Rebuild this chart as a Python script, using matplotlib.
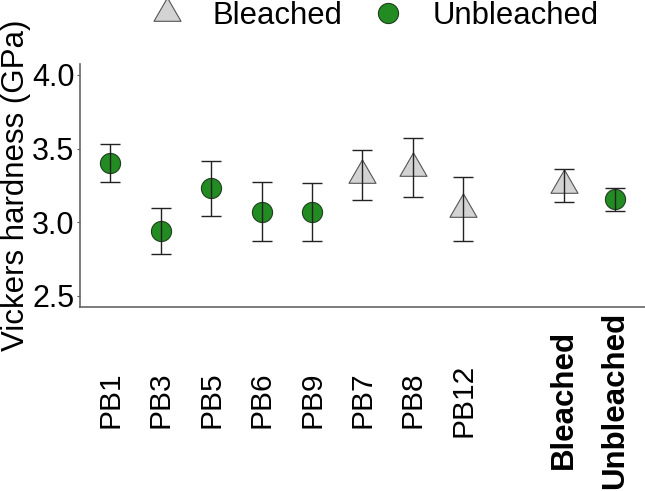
import numpy as np
import matplotlib
matplotlib.use("Agg")
import matplotlib.pyplot as plt
from matplotlib.path import Path
from matplotlib.lines import Line2D

plt.rcParams['font.family'] = ['Liberation Sans', 'DejaVu Sans']

# data (blank slot separates samples from the group means)
samples = ['PB1', 'PB3', 'PB5', 'PB6', 'PB9', 'PB7', 'PB8', 'PB12', '', 'Bleached', 'Unbleached']
group = ['Unbleached'] * 5 + ['Bleached'] * 3 + [''] + ['Bleached', 'Unbleached']
hardness = [3.40, 2.94, 3.23, 3.07, 3.07, 3.32, 3.37, 3.09, np.nan, 3.25, 3.155]
sd = [0.13, 0.155, 0.185, 0.20, 0.195, 0.17, 0.20, 0.215, np.nan, 0.11, 0.077]

tri = Path([(-1, -0.577), (1, -0.577), (0, 1.155), (-1, -0.577)],
           [Path.MOVETO, Path.LINETO, Path.LINETO, Path.CLOSEPOLY])
style = {
    'Bleached': dict(marker=tri, markersize=22.5, markerfacecolor='#d3d3d3',
                     markeredgecolor='#555555', markeredgewidth=0.8),
    'Unbleached': dict(marker='o', markersize=14.5, markerfacecolor='#228b22',
                       markeredgecolor='#1f3f1f', markeredgewidth=0.8),
}

fig = plt.figure(figsize=(6.45, 4.91), dpi=100)
ax = fig.add_axes([0.124, 0.375, 0.876, 0.495])

x = np.arange(1, len(samples) + 1)
for xi, g, m, s in zip(x, group, hardness, sd):
    if not g:
        continue
    ax.plot(xi, m, linestyle='none', zorder=2, **style[g])
    ax.errorbar(xi, m, yerr=s, fmt='none', ecolor='#222222', elinewidth=1,
                capsize=7.5, capthick=1, zorder=3)

ax.set_xlim(0.4, len(samples) + 0.6)
ax.set_ylim(2.425, 4.075)
ax.set_yticks([2.5, 3.0, 3.5, 4.0])
ax.set_yticklabels(['2.5', '3.0', '3.5', '4.0'])
ax.set_xticks(x)
ax.set_xticklabels(samples, rotation=90, va='center', ha='center')

ax.tick_params(axis='x', length=0, pad=67, labelsize=21.5)
ax.tick_params(axis='y', length=2.5, width=0.8, color='#555555', pad=1.5, labelsize=22)
for lab in ax.get_xticklabels()[-2:]:
    lab.set_fontweight('bold')
    lab.set_fontsize(22.5)
for sp in ['top', 'right']:
    ax.spines[sp].set_visible(False)
for sp in ['left', 'bottom']:
    ax.spines[sp].set_color('#666666')
    ax.spines[sp].set_linewidth(1.2)

ax.set_ylabel('Vickers hardness (GPa)', fontsize=22.5, labelpad=1)

handles = [Line2D([], [], linestyle='none', **style['Bleached']),
           Line2D([], [], linestyle='none', **style['Unbleached'])]
fig.legend(handles, ['Bleached', 'Unbleached'], loc='center', ncol=2,
           bbox_to_anchor=(0.582, 1 - 16 / 491), frameon=False, fontsize=22.3,
           handlelength=1.0, handletextpad=0.95, columnspacing=0.98,
           borderpad=0, borderaxespad=0)

fig.savefig('out.png', dpi=100)
plt.close(fig)
